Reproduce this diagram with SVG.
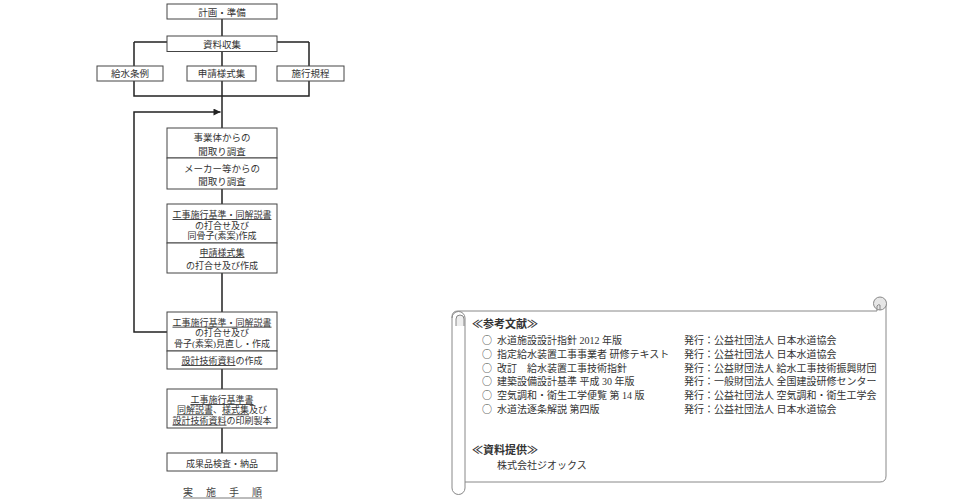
<svg xmlns="http://www.w3.org/2000/svg" width="980" height="500" viewBox="0 0 980 500">
<style>
text{font-family:"Liberation Serif","Noto Sans CJK JP",serif;fill:#333;}
.t{font-size:9.5px;text-anchor:middle;}
.s{font-size:9px;text-anchor:middle;}
.u{text-decoration:underline;}
.box{fill:#fff;stroke:#444;stroke-width:1;}
.con{fill:none;stroke:#222;stroke-width:1.5;}
.scroll{fill:none;stroke:#888;stroke-width:1;}
.p{font-size:10px;}
.o{font-family:"Noto Sans CJK JP",sans-serif;font-size:10px;}
.h{font-size:11px;font-weight:bold;}
.c{font-size:10px;text-anchor:middle;fill:#444;}
</style>
<defs>
<marker id="arr" viewBox="0 0 10 10" refX="10" refY="5" markerWidth="9" markerHeight="7" markerUnits="userSpaceOnUse" orient="auto">
<path d="M0,0 L10,5 L0,10 z" fill="#222"/>
</marker>
</defs>
<rect width="980" height="500" fill="#fff"/>
<g id="connectors">
<path class="con" d="M222 19 V36"/>
<path class="con" d="M134 42 H309 M134 42 V96 H309 V42"/>
<path class="con" d="M222 51 V128"/>
<path class="con" d="M167 332 H134 V112 H220.5" marker-end="url(#arr)"/>
<path class="con" d="M222 189 V204 M222 273 V312 M222 369 V389 M222 428 V453"/>
</g>
<g id="n-plan"><rect class="box" x="167" y="4" width="110" height="15"/><text class="t" x="222" y="15.5">計画・準備</text></g>
<g id="n-collect"><rect class="box" x="167" y="36" width="110" height="15.5"/><text class="t" x="222" y="47.5">資料収集</text></g>
<g id="n-jorei"><rect class="box" x="97" y="66" width="66" height="15"/><text class="t" x="130" y="77">給水条例</text></g>
<g id="n-shinsei"><rect class="box" x="187" y="66" width="69" height="15"/><text class="t" x="221.5" y="77">申請様式集</text></g>
<g id="n-kitei"><rect class="box" x="277" y="66" width="67" height="15"/><text class="t" x="310.5" y="77">施行規程</text></g>
<g id="n-jigyotai"><rect class="box" x="167" y="128" width="110" height="30"/><text class="t" x="222" y="141">事業体からの</text><text class="t" x="222" y="155">聞取り調査</text></g>
<g id="n-maker"><rect class="box" x="167" y="158" width="110" height="31"/><text class="t" x="222" y="171.5">メーカー等からの</text><text class="t" x="222" y="185">聞取り調査</text></g>
<g id="n-kossi"><rect class="box" x="167" y="204" width="110" height="39"/><text class="s" x="222" y="218"><tspan class="u">工事施行基準・同解説書</tspan></text><text class="s" x="222" y="228.7">の打合せ及び</text><text class="s" x="222" y="239">同骨子(素案)作成</text></g>
<g id="n-yoshiki"><rect class="box" x="167" y="243" width="110" height="30"/><text class="s" x="222" y="256"><tspan class="u">申請様式集</tspan></text><text class="s" x="222" y="268.7">の打合せ及び作成</text></g>
<g id="n-minaoshi"><rect class="box" x="167" y="312" width="110" height="39"/><text class="s" x="222" y="325.7"><tspan class="u">工事施行基準・同解説書</tspan></text><text class="s" x="222" y="336.3">の打合せ及び</text><text class="s" x="222" y="346.5">骨子(素案)見直し・作成</text></g>
<g id="n-gijutsu"><rect class="box" x="167" y="351" width="110" height="18"/><text class="s" x="222" y="364"><tspan class="u">設計技術資料</tspan>の作成</text></g>
<g id="n-insatsu"><rect class="box" x="167" y="389" width="110" height="39"/><text class="s" x="222" y="403"><tspan class="u">工事施行基準書</tspan></text><text class="s" x="222" y="413.3"><tspan class="u">同解説書</tspan>、<tspan class="u">様式集</tspan>及び</text><text class="s" x="222" y="423.7"><tspan class="u">設計技術資料</tspan>の印刷製本</text></g>
<g id="n-kensa"><rect class="box" x="167" y="453" width="110" height="18"/><text class="s" x="222" y="467">成果品検査・納品</text></g>
<g id="caption">
<text class="c" x="188" y="495.5">実</text><text class="c" x="211" y="495.5">施</text><text class="c" x="234" y="495.5">手</text><text class="c" x="257" y="495.5">順</text>
<path d="M183 498 H262" stroke="#555" stroke-width="0.8"/>
</g>
<g id="panel">
<path class="scroll" d="M874 311 H458 Q452 311 452 317 V488 A6.5 6.5 0 0 0 465 488 V318 A6.5 6.5 0 0 0 452 318"/>
<path d="M456 326 V319 A4 4 0 0 1 464 319 V326" fill="#eee" stroke="#888" stroke-width="1"/>
<path class="scroll" d="M465 482 H880 Q886 482 886 476 V303"/>
<circle cx="880" cy="303.5" r="6.5" fill="#e6e6e6" stroke="#888" stroke-width="1"/>
<path class="scroll" d="M874 311 H877 V306 Q878 304 880 305 V310"/>
<text class="h" x="472" y="328">≪参考文献≫</text>
<text class="o" x="482" y="344">○</text>
<text class="o" x="482" y="358">○</text>
<text class="o" x="482" y="371.5">○</text>
<text class="o" x="482" y="385">○</text>
<text class="o" x="482" y="399">○</text>
<text class="o" x="482" y="412.5">○</text>
<text class="p" x="497" y="344">水道施設設計指針 2012 年版</text>
<text class="p" x="497" y="358">指定給水装置工事事業者 研修テキスト</text>
<text class="p" x="497" y="371.5">改訂　給水装置工事技術指針</text>
<text class="p" x="497" y="385">建築設備設計基準 平成 30 年版</text>
<text class="p" x="497" y="399">空気調和・衛生工学便覧 第 14 版</text>
<text class="p" x="497" y="412.5">水道法逐条解説 第四版</text>
<text class="p" x="684" y="344">発行：公益社団法人 日本水道協会</text>
<text class="p" x="684" y="358">発行：公益社団法人 日本水道協会</text>
<text class="p" x="684" y="371.5">発行：公益財団法人 給水工事技術振興財団</text>
<text class="p" x="684" y="385">発行：一般財団法人 全国建設研修センター</text>
<text class="p" x="684" y="399">発行：公益社団法人 空気調和・衛生工学会</text>
<text class="p" x="684" y="412.5">発行：公益社団法人 日本水道協会</text>
<text class="h" x="472" y="454">≪資料提供≫</text>
<text class="p" x="497" y="468.5">株式会社ジオックス</text>
</g>
</svg>
